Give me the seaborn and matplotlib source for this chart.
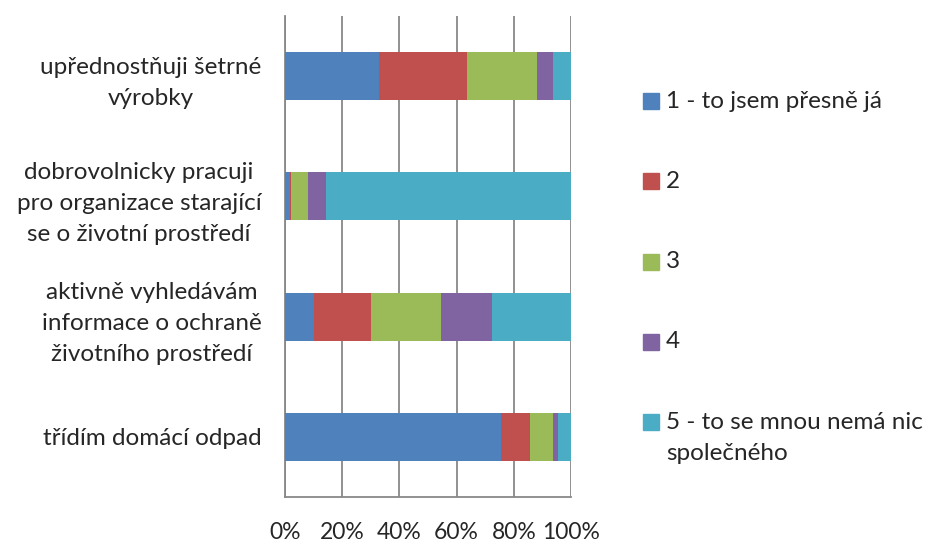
import numpy as np
import pandas as pd
import matplotlib
matplotlib.use("Agg")
import matplotlib.pyplot as plt
import seaborn as sns
from matplotlib.patches import Rectangle

# statements (top to bottom)
statements = [
    "upřednostňuji šetrné\nvýrobky",
    "dobrovolnicky pracuji\npro organizace starající\nse o životní prostředí",
    "aktivně vyhledávám\ninformace o ochraně\nživotního prostředí",
    "třídím domácí odpad",
]
answers = [
    "1 - to jsem přesně já",
    "2",
    "3",
    "4",
    "5 - to se mnou nemá nic\nspolečného",
]
colors = ["#4F81BD", "#C0504D", "#9BBB59", "#8064A2", "#4BACC6"]

# share of answers in %
ans1 = [33.0, 1.6, 10.3, 75.6]
ans2 = [30.8, 0.6, 19.6, 10.2]
ans3 = [24.4, 5.8, 24.5, 8.0]
ans4 = [5.5, 6.2, 18.0, 1.5]
ans5 = [6.3, 85.8, 27.6, 4.7]

df = pd.DataFrame({"statement": statements, "a1": ans1, "a2": ans2,
                   "a3": ans3, "a4": ans4, "a5": ans5})
cols = ["a1", "a2", "a3", "a4", "a5"]
cum = df[cols].cumsum(axis=1)
cum = cum.div(cum["a5"], axis=0) * 100  # normalise to 100 %

sns.set_style("white")
plt.rcParams["font.family"] = ["Lato", "DejaVu Sans"]
FS = 17.5

fig = plt.figure(figsize=(9.28, 5.43), dpi=100)
ax = fig.add_axes([285 / 928, 46 / 543, 286 / 928, 481 / 543])

# draw stacked bars, widest cumulative first
for c, col in reversed(list(zip(colors, cols))):
    sns.barplot(x=cum[col], y=df["statement"], order=statements, color=c,
                width=0.4, orient="h", ax=ax, saturation=1, edgecolor="none",
                zorder=3)

ax.set_xlim(0, 100)
ax.set_ylim(3.5, -0.5)
ax.set_xticks(np.arange(0, 101, 20))
ax.set_xticklabels([f"{v}%" for v in range(0, 101, 20)], fontsize=16.5)
ax.set_xlabel("")
ax.set_ylabel("")
ax.tick_params(axis="x", length=8, width=1.3, color="#888888", pad=10)
ax.tick_params(axis="y", which="major", length=0, pad=17)
ax.set_yticks(np.arange(-0.5, 4, 1), minor=True)
ax.tick_params(axis="y", which="minor", length=8, width=1.3, color="#888888")
for lab in ax.get_yticklabels():
    lab.set_fontsize(FS)
    lab.set_multialignment("center")
    lab.set_linespacing(1.6)

ax.grid(axis="x", color="#888888", linewidth=1.3, zorder=0)
ax.set_axisbelow(True)
for s in ["top", "right"]:
    ax.spines[s].set_visible(False)
for s in ["left", "bottom"]:
    ax.spines[s].set_color("#888888")
    ax.spines[s].set_linewidth(1.3)

# legend drawn at the right, one entry every 80 px
for i, (lab, c) in enumerate(zip(answers, colors)):
    yc = 1 - (101 + 80.3 * i) / 543
    fig.patches.append(Rectangle((643 / 928, yc - 8 / 543), 16 / 928, 16 / 543,
                                 transform=fig.transFigure, color=c))
    fig.text(666 / 928, yc + 10.5 / 543, lab, fontsize=FS, va="top", ha="left",
             linespacing=1.6)

fig.savefig("out.png", dpi=100)
